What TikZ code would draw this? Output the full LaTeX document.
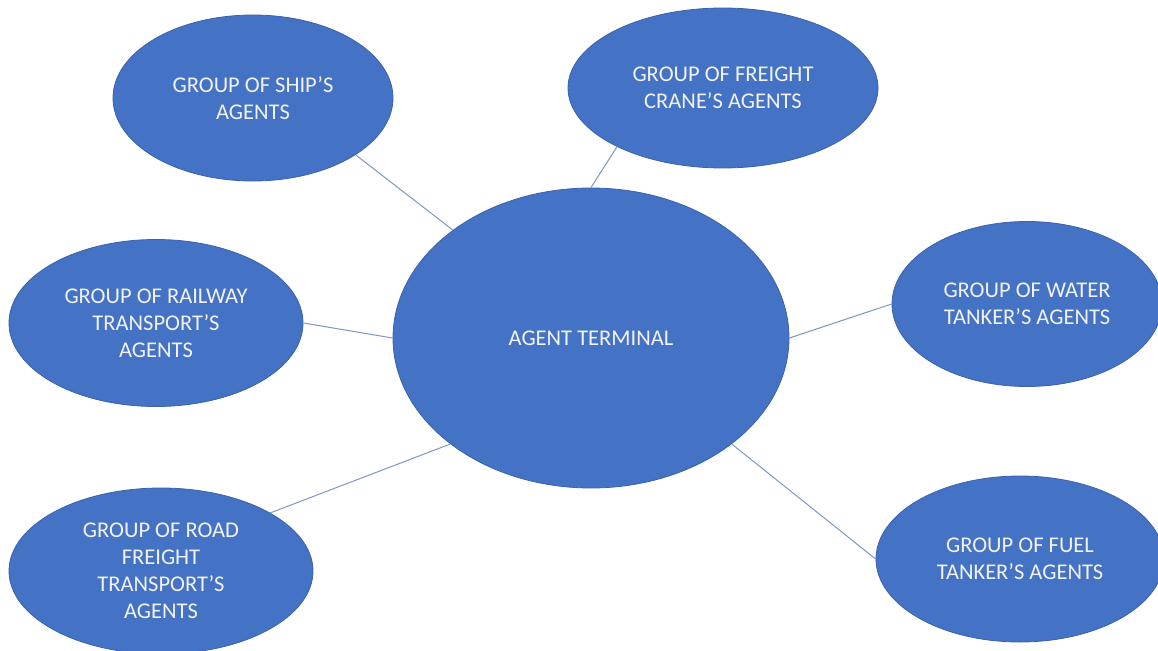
\documentclass[tikz,border=0pt]{standalone}
\usepackage{fontspec}
\setmainfont{Carlito}
\usetikzlibrary{shapes.geometric}
\definecolor{officeblue}{HTML}{4472C4}
\definecolor{officeedge}{HTML}{3A62AC}
\definecolor{linkblue}{HTML}{7F97BF}
\definecolor{textwhite}{HTML}{F2F2F2}
\tikzset{
  bubble/.style={ellipse, fill=officeblue, draw=officeedge, line width=0.8pt, inner sep=0pt,
    text=textwhite, align=center, font=\fontsize{22.5}{27}\selectfont},
  link/.style={draw=linkblue, line width=1pt}
}
\begin{document}
\begin{tikzpicture}[x=1pt,y=-1pt]
\useasboundingbox (0,0) rectangle (1158,650);
\clip (0,0) rectangle (1158,650);
\fill[white] (0,0) rectangle (1158,650);
\node[bubble, minimum width=280pt, minimum height=166pt] (ship) at (253,98) {GROUP OF SHIP’S\\AGENTS};
\node[bubble, minimum width=310pt, minimum height=160pt] (crane) at (723,88) {GROUP OF FREIGHT\\CRANE’S AGENTS};
\node[bubble, minimum width=396pt, minimum height=300pt] (term) at (591,338) {AGENT TERMINAL};
\node[bubble, minimum width=294pt, minimum height=167pt] (rail) at (156,323) {GROUP OF RAILWAY\\TRANSPORT’S\\AGENTS};
\node[bubble, minimum width=270pt, minimum height=165pt] (water) at (1027,304) {GROUP OF WATER\\TANKER’S AGENTS};
\node[bubble, minimum width=304pt, minimum height=166pt] (road) at (161,571) {GROUP OF ROAD\\FREIGHT\\TRANSPORT’S\\AGENTS};
\node[bubble, minimum width=288pt, minimum height=166pt] (fuel) at (1020,559) {GROUP OF FUEL\\TANKER’S AGENTS};
\draw[link] (ship.-29) -- (term.142);
\draw[link] (crane.-151) -- (term.90.4);
\draw[link] (rail.0) -- (term.180.3);
\draw[link] (water.180.8) -- (term.0);
\draw[link] (road.28) -- (term.217);
\draw[link] (fuel.180) -- (term.-37.5);
\end{tikzpicture}
\end{document}
